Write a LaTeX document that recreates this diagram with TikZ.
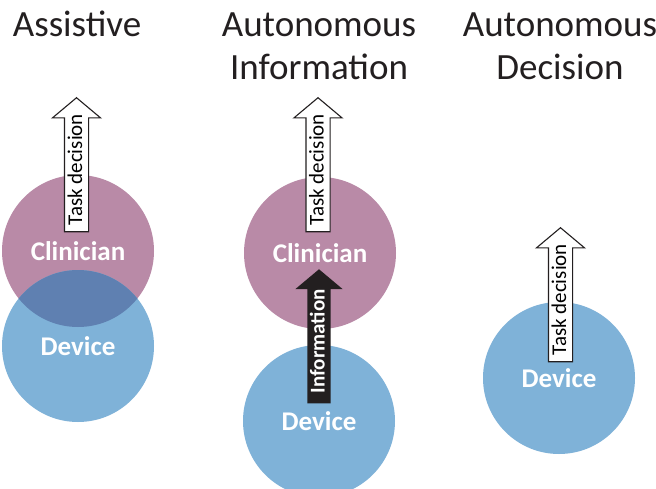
\documentclass[tikz,border=0pt]{standalone}
\usepackage{fontspec}
\setmainfont{Carlito}
\usepackage{tikz}
\usetikzlibrary{shapes.arrows}
\definecolor{INK}{HTML}{231F20}
\definecolor{CLIN}{HTML}{B98AA7}
\definecolor{DEV}{HTML}{7FB2D8}
\definecolor{BOTH}{HTML}{5F80B1}

\begin{document}
\begin{tikzpicture}[x=1pt,y=-1pt]
\tikzset{disc/.style={circle,minimum size=152pt,inner sep=0pt,text=white,font=\fontsize{27}{30}\selectfont\bfseries},
 ttl/.style={font=\fontsize{37}{43}\selectfont,align=center,text=INK,anchor=base},
 uparrow/.style={single arrow,single arrow head extend=12pt,single arrow tip angle=100,rotate=90,anchor=tip,
  inner xsep=2pt,inner ysep=3pt,text height=14pt,text depth=3pt,minimum height=134pt,font=\fontsize{21}{24}\selectfont},
 taskarr/.style={uparrow,draw=INK,fill=white,line width=1.1pt},
 infoarr/.style={uparrow,fill=INK,text=white,font=\fontsize{21}{24}\selectfont\bfseries}}
\useasboundingbox[fill=white] (0,0) rectangle (656,489);
% titles (base = last line)
\node[ttl] (ttlA) at (77,37) {Assistive};
\node[ttl] (ttlB) at (319,80) {Autonomous\\Information};
\node[ttl] (ttlC) at (560,80) {Autonomous\\Decision};
% assistive
\node[disc,fill=CLIN] (clinA) at (78,251) {Clinician};
\node[disc,fill=DEV] (devA) at (78,346) {Device};
\begin{scope}
\clip (clinA.center) circle[radius=76pt];
\fill[BOTH] (devA.center) circle[radius=76pt];
\end{scope}
\node[taskarr] (taskA) at (76.5,97) {Task decision};
% autonomous information
\node[disc,fill=CLIN] (clinB) at (320,253) {Clinician};
\node[disc,fill=DEV] (devB) at (319,421) {Device};
\node[taskarr] (taskB) at (318,97) {Task decision};
\node[infoarr] (info) at (319,269) {Information};
% autonomous decision
\node[disc,fill=DEV] (devC) at (559,378) {Device};
\node[taskarr] (taskC) at (560.5,227) {Task decision};
\end{tikzpicture}
\end{document}
